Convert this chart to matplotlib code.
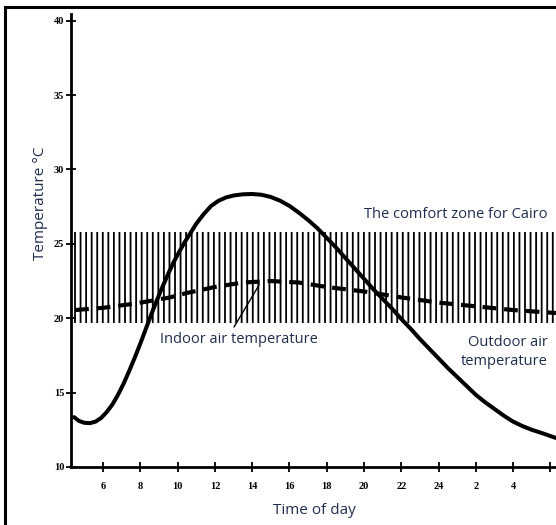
import numpy as np
import matplotlib
matplotlib.use('Agg')
import matplotlib.pyplot as plt
from matplotlib.lines import Line2D

# hours (past 24 continues as 26, 28, 30 = 2, 4, 6 next morning)
indoor_t = [4.45, 4.7, 5.0, 5.3, 5.6, 5.9, 6.2, 6.5, 6.8, 7.1, 7.4, 7.7, 8.0, 8.3, 8.6,
            8.9, 9.2, 9.5, 9.8, 10.1, 10.4, 10.7, 11.0, 11.4, 11.8, 12.2, 12.6, 13.0,
            13.5, 14.0, 14.5, 15.0, 15.5, 16.0, 16.5, 17.0, 17.5, 18.0, 18.5, 19.0,
            19.5, 20.0, 20.5, 21.0, 21.5, 22.0, 22.5, 23.0, 23.5, 24.0, 24.5, 25.0,
            25.5, 26.0, 26.5, 27.0, 27.5, 28.0, 28.5, 29.0, 29.5, 30.3]
indoor_T = [13.35, 13.1, 12.97, 12.95, 13.05, 13.3, 13.7, 14.2, 14.85, 15.6, 16.45, 17.35, 18.3, 19.3, 20.3,
            21.25, 22.15, 23.0, 23.8, 24.5, 25.15, 25.75, 26.35, 27.0, 27.55, 27.9, 28.12, 28.25,
            28.33, 28.35, 28.3, 28.15, 27.9, 27.55, 27.1, 26.6, 26.05, 25.4, 24.75, 24.05,
            23.35, 22.65, 21.95, 21.3, 20.65, 19.95, 19.3, 18.6, 17.95, 17.3, 16.65, 16.05,
            15.45, 14.85, 14.35, 13.9, 13.45, 13.05, 12.75, 12.5, 12.3, 11.95]

outdoor_t = [4.5, 6.0, 7.8, 9.6, 10.5, 12.0, 13.5, 15.0, 16.5, 18.0, 20.0, 22.0, 24.0, 26.0, 28.0, 30.3]
outdoor_T = [20.55, 20.7, 21.0, 21.4, 21.7, 22.1, 22.4, 22.5, 22.4, 22.1, 21.8, 21.4, 21.05, 20.8, 20.55, 20.35]

comfort_low, comfort_high = 19.7, 25.8
comfort_t = [4.45, 30.3]

x_ticks = [6, 8, 10, 12, 14, 16, 18, 20, 22, 24, 26, 28, 30]
x_labels = ['6', '8', '10', '12', '14', '16', '18', '20', '22', '24', '2', '4', '']
y_ticks = [10, 15, 20, 25, 30, 35, 40]

txt = '#1f2d4d'
sans = ['Open Sans', 'DejaVu Sans']
plt.rcParams['hatch.linewidth'] = 1.3

fig = plt.figure(figsize=(5.56, 5.25), dpi=100)
ax = fig.add_axes([71/556, 1-467/525, 1-71/556, (467-14)/525])

ax.fill_between(comfort_t, comfort_low, comfort_high, facecolor='none',
                edgecolor='black', hatch='|||', linewidth=0)
ax.plot(outdoor_t, outdoor_T, color='black', lw=3, linestyle=(0, (3.3, 1.9)))
ax.plot(indoor_t, indoor_T, color='black', lw=2.9, solid_capstyle='round',
        solid_joinstyle='round')

ax.set_xlim(4.28, 30.3)
ax.set_ylim(10, 40.45)
ax.set_xticks(x_ticks)
ax.set_xticklabels(x_labels)
ax.set_yticks(y_ticks)
for s in ['top', 'right']:
    ax.spines[s].set_visible(False)
for s in ['left', 'bottom']:
    ax.spines[s].set_linewidth(2)
ax.tick_params(direction='inout', length=7, width=1.3)
ax.tick_params(axis='x', pad=7)
ax.tick_params(axis='y', pad=1.5)
for lab in ax.get_xticklabels() + ax.get_yticklabels():
    lab.set_fontfamily('Liberation Serif')
    lab.set_fontweight('bold')
    lab.set_fontsize(7.5)

ax.text(29.84, 26.95, 'The comfort zone for Cairo', ha='right', va='center',
        fontsize=10.5, color=txt, family=sans)
ax.text(13.3, 18.54, 'Indoor air temperature', ha='center', va='center',
        fontsize=10.5, color=txt, family=sans)
ax.annotate('', xy=(14.45, 22.4), xytext=(12.95, 19.25),
            arrowprops=dict(arrowstyle='-', lw=1, color='black'))
ax.text(29.84, 17.73, 'Outdoor air\ntemperature', ha='right', va='center',
        fontsize=10.5, color=txt, family=sans, linespacing=1.3)

fig.text(40/556, 1-203/525, 'Temperature °C', rotation=90, ha='center', va='center',
         fontsize=11, color=txt, family=sans)
fig.text(314/556, 1-510/525, 'Time of day', ha='center', va='center',
         fontsize=11, color=txt, family=sans)

# page frame (left and top edges)
fig.add_artist(Line2D([5/556, 5/556], [0, 1-7/525], transform=fig.transFigure, color='black', lw=2.2))
fig.add_artist(Line2D([5/556, 1], [1-7/525, 1-7/525], transform=fig.transFigure, color='black', lw=2.2))

fig.savefig('out.png', dpi=100)
